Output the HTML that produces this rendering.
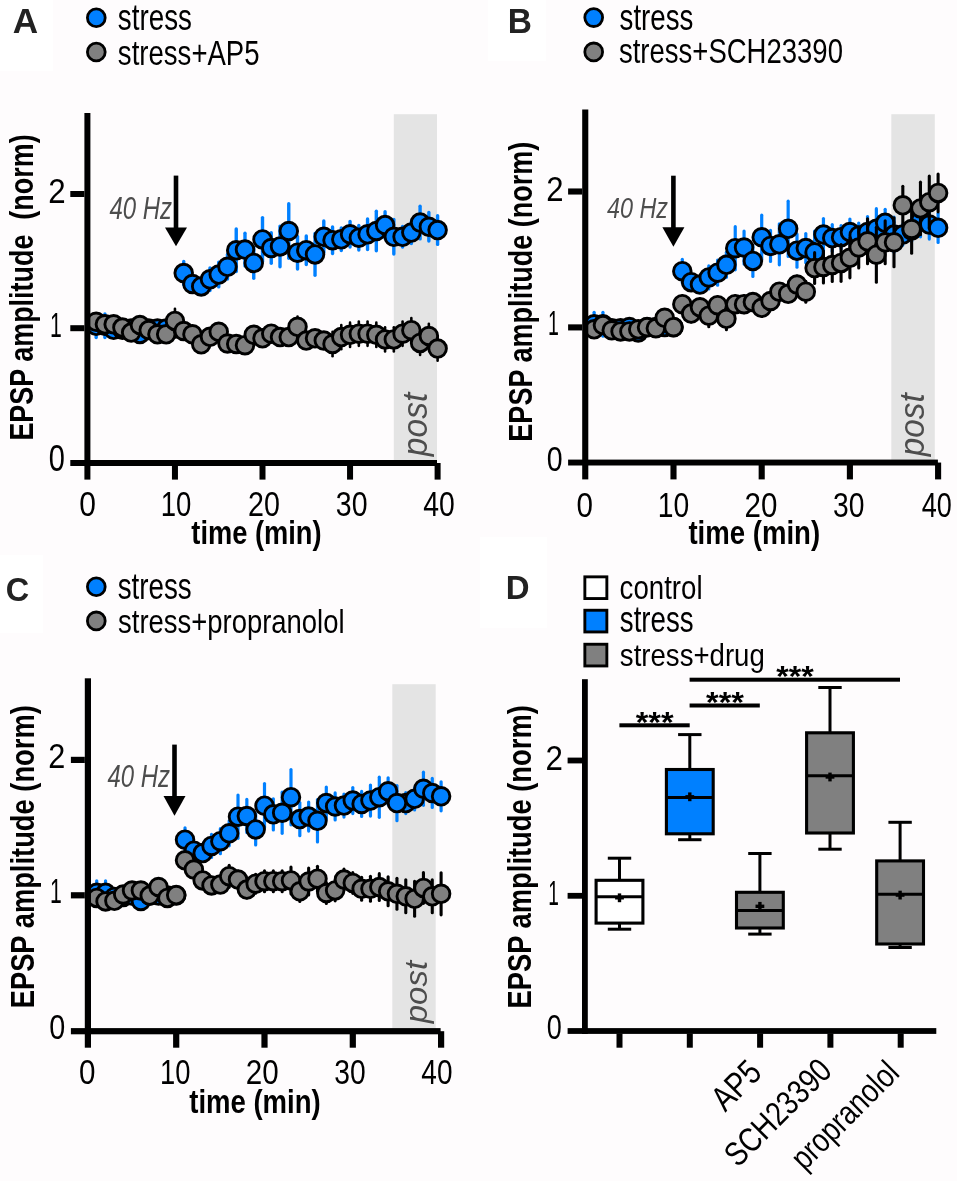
<!DOCTYPE html>
<html><head><meta charset="utf-8"><title>figure</title><style>
html,body{margin:0;padding:0;background:#fefcfd;overflow:hidden;}
svg{display:block;font-family:"Liberation Sans", sans-serif;will-change:transform;}
text{white-space:pre;}
</style></head><body>
<svg width="957" height="1181" viewBox="0 0 957 1181">
<rect x="0" y="0" width="957" height="1181" fill="#fefcfd"/>
<rect x="0" y="0" width="53" height="71" fill="#ffffff"/>
<rect x="488" y="0" width="58" height="61" fill="#ffffff"/>
<rect x="0" y="555" width="43" height="78" fill="#ffffff"/>
<rect x="480" y="537" width="67" height="91" fill="#ffffff"/>
<rect x="393.8" y="114.2" width="43.20" height="348.80" fill="#e4e4e4"/>
<rect x="173.70" y="175.6" width="4.6" height="52.90" fill="#000"/>
<polygon points="165.00,227.5 187.00,227.5 176.00,246.3" fill="#000"/>
<line x1="96.16" y1="314.06" x2="96.16" y2="337.56" stroke="#0080ff" stroke-width="3.4" stroke-linecap="round"/>
<line x1="104.91" y1="314.06" x2="104.91" y2="337.56" stroke="#0080ff" stroke-width="3.4" stroke-linecap="round"/>
<line x1="113.67" y1="322.13" x2="113.67" y2="337.56" stroke="#0080ff" stroke-width="3.4" stroke-linecap="round"/>
<line x1="122.42" y1="322.13" x2="122.42" y2="337.56" stroke="#0080ff" stroke-width="3.4" stroke-linecap="round"/>
<line x1="131.18" y1="320.78" x2="131.18" y2="336.22" stroke="#0080ff" stroke-width="3.4" stroke-linecap="round"/>
<line x1="139.93" y1="326.17" x2="139.93" y2="341.60" stroke="#0080ff" stroke-width="3.4" stroke-linecap="round"/>
<line x1="148.69" y1="320.78" x2="148.69" y2="336.22" stroke="#0080ff" stroke-width="3.4" stroke-linecap="round"/>
<line x1="157.44" y1="320.78" x2="157.44" y2="336.22" stroke="#0080ff" stroke-width="3.4" stroke-linecap="round"/>
<line x1="166.19" y1="320.78" x2="166.19" y2="336.22" stroke="#0080ff" stroke-width="3.4" stroke-linecap="round"/>
<line x1="174.95" y1="320.78" x2="174.95" y2="336.22" stroke="#0080ff" stroke-width="3.4" stroke-linecap="round"/>
<line x1="183.71" y1="261.40" x2="183.71" y2="284.80" stroke="#0080ff" stroke-width="3.4" stroke-linecap="round"/>
<line x1="192.46" y1="277.70" x2="192.46" y2="290.30" stroke="#0080ff" stroke-width="3.4" stroke-linecap="round"/>
<line x1="201.22" y1="280.10" x2="201.22" y2="292.70" stroke="#0080ff" stroke-width="3.4" stroke-linecap="round"/>
<line x1="209.97" y1="268.00" x2="209.97" y2="290.60" stroke="#0080ff" stroke-width="3.4" stroke-linecap="round"/>
<line x1="218.73" y1="262.30" x2="218.73" y2="286.90" stroke="#0080ff" stroke-width="3.4" stroke-linecap="round"/>
<line x1="227.48" y1="254.50" x2="227.48" y2="279.10" stroke="#0080ff" stroke-width="3.4" stroke-linecap="round"/>
<line x1="236.24" y1="229.00" x2="236.24" y2="271.60" stroke="#0080ff" stroke-width="3.4" stroke-linecap="round"/>
<line x1="244.99" y1="233.30" x2="244.99" y2="265.90" stroke="#0080ff" stroke-width="3.4" stroke-linecap="round"/>
<line x1="253.75" y1="247.60" x2="253.75" y2="278.20" stroke="#0080ff" stroke-width="3.4" stroke-linecap="round"/>
<line x1="262.50" y1="217.60" x2="262.50" y2="261.20" stroke="#0080ff" stroke-width="3.4" stroke-linecap="round"/>
<line x1="271.25" y1="232.70" x2="271.25" y2="263.30" stroke="#0080ff" stroke-width="3.4" stroke-linecap="round"/>
<line x1="280.01" y1="226.10" x2="280.01" y2="266.70" stroke="#0080ff" stroke-width="3.4" stroke-linecap="round"/>
<line x1="288.76" y1="203.70" x2="288.76" y2="258.30" stroke="#0080ff" stroke-width="3.4" stroke-linecap="round"/>
<line x1="297.52" y1="236.40" x2="297.52" y2="269.00" stroke="#0080ff" stroke-width="3.4" stroke-linecap="round"/>
<line x1="306.28" y1="235.90" x2="306.28" y2="264.50" stroke="#0080ff" stroke-width="3.4" stroke-linecap="round"/>
<line x1="315.03" y1="233.50" x2="315.03" y2="275.30" stroke="#0080ff" stroke-width="3.4" stroke-linecap="round"/>
<line x1="323.79" y1="221.00" x2="323.79" y2="252.60" stroke="#0080ff" stroke-width="3.4" stroke-linecap="round"/>
<line x1="332.54" y1="226.90" x2="332.54" y2="253.50" stroke="#0080ff" stroke-width="3.4" stroke-linecap="round"/>
<line x1="341.30" y1="228.00" x2="341.30" y2="250.60" stroke="#0080ff" stroke-width="3.4" stroke-linecap="round"/>
<line x1="350.05" y1="221.50" x2="350.05" y2="247.10" stroke="#0080ff" stroke-width="3.4" stroke-linecap="round"/>
<line x1="358.81" y1="225.40" x2="358.81" y2="250.00" stroke="#0080ff" stroke-width="3.4" stroke-linecap="round"/>
<line x1="367.56" y1="219.00" x2="367.56" y2="249.60" stroke="#0080ff" stroke-width="3.4" stroke-linecap="round"/>
<line x1="376.32" y1="211.20" x2="376.32" y2="250.80" stroke="#0080ff" stroke-width="3.4" stroke-linecap="round"/>
<line x1="385.07" y1="211.80" x2="385.07" y2="238.40" stroke="#0080ff" stroke-width="3.4" stroke-linecap="round"/>
<line x1="393.83" y1="219.50" x2="393.83" y2="254.10" stroke="#0080ff" stroke-width="3.4" stroke-linecap="round"/>
<line x1="402.58" y1="226.50" x2="402.58" y2="247.10" stroke="#0080ff" stroke-width="3.4" stroke-linecap="round"/>
<line x1="411.34" y1="221.70" x2="411.34" y2="243.50" stroke="#0080ff" stroke-width="3.4" stroke-linecap="round"/>
<line x1="420.09" y1="206.30" x2="420.09" y2="238.90" stroke="#0080ff" stroke-width="3.4" stroke-linecap="round"/>
<line x1="428.85" y1="212.50" x2="428.85" y2="241.10" stroke="#0080ff" stroke-width="3.4" stroke-linecap="round"/>
<line x1="437.60" y1="215.80" x2="437.60" y2="244.40" stroke="#0080ff" stroke-width="3.4" stroke-linecap="round"/>
<circle cx="96.16" cy="325.81" r="8.8" fill="#0080ff" stroke="#000" stroke-width="2.9"/>
<circle cx="104.91" cy="325.81" r="8.8" fill="#0080ff" stroke="#000" stroke-width="2.9"/>
<circle cx="113.67" cy="329.85" r="8.8" fill="#0080ff" stroke="#000" stroke-width="2.9"/>
<circle cx="122.42" cy="329.85" r="8.8" fill="#0080ff" stroke="#000" stroke-width="2.9"/>
<circle cx="131.18" cy="328.50" r="8.8" fill="#0080ff" stroke="#000" stroke-width="2.9"/>
<circle cx="139.93" cy="333.88" r="8.8" fill="#0080ff" stroke="#000" stroke-width="2.9"/>
<circle cx="148.69" cy="328.50" r="8.8" fill="#0080ff" stroke="#000" stroke-width="2.9"/>
<circle cx="157.44" cy="328.50" r="8.8" fill="#0080ff" stroke="#000" stroke-width="2.9"/>
<circle cx="166.19" cy="328.50" r="8.8" fill="#0080ff" stroke="#000" stroke-width="2.9"/>
<circle cx="174.95" cy="328.50" r="8.8" fill="#0080ff" stroke="#000" stroke-width="2.9"/>
<circle cx="183.71" cy="273.10" r="8.8" fill="#0080ff" stroke="#000" stroke-width="2.9"/>
<circle cx="192.46" cy="284.00" r="8.8" fill="#0080ff" stroke="#000" stroke-width="2.9"/>
<circle cx="201.22" cy="286.40" r="8.8" fill="#0080ff" stroke="#000" stroke-width="2.9"/>
<circle cx="209.97" cy="279.30" r="8.8" fill="#0080ff" stroke="#000" stroke-width="2.9"/>
<circle cx="218.73" cy="274.60" r="8.8" fill="#0080ff" stroke="#000" stroke-width="2.9"/>
<circle cx="227.48" cy="266.80" r="8.8" fill="#0080ff" stroke="#000" stroke-width="2.9"/>
<circle cx="236.24" cy="250.30" r="8.8" fill="#0080ff" stroke="#000" stroke-width="2.9"/>
<circle cx="244.99" cy="249.60" r="8.8" fill="#0080ff" stroke="#000" stroke-width="2.9"/>
<circle cx="253.75" cy="262.90" r="8.8" fill="#0080ff" stroke="#000" stroke-width="2.9"/>
<circle cx="262.50" cy="239.40" r="8.8" fill="#0080ff" stroke="#000" stroke-width="2.9"/>
<circle cx="271.25" cy="248.00" r="8.8" fill="#0080ff" stroke="#000" stroke-width="2.9"/>
<circle cx="280.01" cy="246.40" r="8.8" fill="#0080ff" stroke="#000" stroke-width="2.9"/>
<circle cx="288.76" cy="231.00" r="8.8" fill="#0080ff" stroke="#000" stroke-width="2.9"/>
<circle cx="297.52" cy="252.70" r="8.8" fill="#0080ff" stroke="#000" stroke-width="2.9"/>
<circle cx="306.28" cy="250.20" r="8.8" fill="#0080ff" stroke="#000" stroke-width="2.9"/>
<circle cx="315.03" cy="254.40" r="8.8" fill="#0080ff" stroke="#000" stroke-width="2.9"/>
<circle cx="323.79" cy="236.80" r="8.8" fill="#0080ff" stroke="#000" stroke-width="2.9"/>
<circle cx="332.54" cy="240.20" r="8.8" fill="#0080ff" stroke="#000" stroke-width="2.9"/>
<circle cx="341.30" cy="239.30" r="8.8" fill="#0080ff" stroke="#000" stroke-width="2.9"/>
<circle cx="350.05" cy="234.30" r="8.8" fill="#0080ff" stroke="#000" stroke-width="2.9"/>
<circle cx="358.81" cy="237.70" r="8.8" fill="#0080ff" stroke="#000" stroke-width="2.9"/>
<circle cx="367.56" cy="234.30" r="8.8" fill="#0080ff" stroke="#000" stroke-width="2.9"/>
<circle cx="376.32" cy="231.00" r="8.8" fill="#0080ff" stroke="#000" stroke-width="2.9"/>
<circle cx="385.07" cy="225.10" r="8.8" fill="#0080ff" stroke="#000" stroke-width="2.9"/>
<circle cx="393.83" cy="236.80" r="8.8" fill="#0080ff" stroke="#000" stroke-width="2.9"/>
<circle cx="402.58" cy="236.80" r="8.8" fill="#0080ff" stroke="#000" stroke-width="2.9"/>
<circle cx="411.34" cy="232.60" r="8.8" fill="#0080ff" stroke="#000" stroke-width="2.9"/>
<circle cx="420.09" cy="222.60" r="8.8" fill="#0080ff" stroke="#000" stroke-width="2.9"/>
<circle cx="428.85" cy="226.80" r="8.8" fill="#0080ff" stroke="#000" stroke-width="2.9"/>
<circle cx="437.60" cy="230.10" r="8.8" fill="#0080ff" stroke="#000" stroke-width="2.9"/>
<line x1="96.16" y1="315.03" x2="96.16" y2="328.57" stroke="#000" stroke-width="2.6" stroke-linecap="round"/>
<line x1="104.91" y1="317.53" x2="104.91" y2="331.07" stroke="#000" stroke-width="2.6" stroke-linecap="round"/>
<line x1="113.67" y1="317.53" x2="113.67" y2="331.07" stroke="#000" stroke-width="2.6" stroke-linecap="round"/>
<line x1="122.42" y1="320.83" x2="122.42" y2="334.37" stroke="#000" stroke-width="2.6" stroke-linecap="round"/>
<line x1="131.18" y1="325.83" x2="131.18" y2="339.37" stroke="#000" stroke-width="2.6" stroke-linecap="round"/>
<line x1="139.93" y1="318.33" x2="139.93" y2="331.87" stroke="#000" stroke-width="2.6" stroke-linecap="round"/>
<line x1="148.69" y1="323.33" x2="148.69" y2="336.87" stroke="#000" stroke-width="2.6" stroke-linecap="round"/>
<line x1="157.44" y1="327.53" x2="157.44" y2="341.07" stroke="#000" stroke-width="2.6" stroke-linecap="round"/>
<line x1="166.19" y1="327.53" x2="166.19" y2="341.07" stroke="#000" stroke-width="2.6" stroke-linecap="round"/>
<line x1="174.95" y1="308.75" x2="174.95" y2="333.05" stroke="#000" stroke-width="2.6" stroke-linecap="round"/>
<line x1="183.71" y1="324.23" x2="183.71" y2="337.77" stroke="#000" stroke-width="2.6" stroke-linecap="round"/>
<line x1="192.46" y1="327.53" x2="192.46" y2="341.07" stroke="#000" stroke-width="2.6" stroke-linecap="round"/>
<line x1="201.22" y1="337.53" x2="201.22" y2="351.07" stroke="#000" stroke-width="2.6" stroke-linecap="round"/>
<line x1="209.97" y1="330.03" x2="209.97" y2="343.57" stroke="#000" stroke-width="2.6" stroke-linecap="round"/>
<line x1="218.73" y1="325.03" x2="218.73" y2="338.57" stroke="#000" stroke-width="2.6" stroke-linecap="round"/>
<line x1="227.48" y1="336.73" x2="227.48" y2="350.27" stroke="#000" stroke-width="2.6" stroke-linecap="round"/>
<line x1="236.24" y1="337.23" x2="236.24" y2="350.77" stroke="#000" stroke-width="2.6" stroke-linecap="round"/>
<line x1="244.99" y1="338.43" x2="244.99" y2="351.97" stroke="#000" stroke-width="2.6" stroke-linecap="round"/>
<line x1="253.75" y1="328.03" x2="253.75" y2="341.57" stroke="#000" stroke-width="2.6" stroke-linecap="round"/>
<line x1="262.50" y1="331.53" x2="262.50" y2="345.07" stroke="#000" stroke-width="2.6" stroke-linecap="round"/>
<line x1="271.25" y1="326.93" x2="271.25" y2="340.47" stroke="#000" stroke-width="2.6" stroke-linecap="round"/>
<line x1="280.01" y1="330.33" x2="280.01" y2="343.87" stroke="#000" stroke-width="2.6" stroke-linecap="round"/>
<line x1="288.76" y1="330.33" x2="288.76" y2="343.87" stroke="#000" stroke-width="2.6" stroke-linecap="round"/>
<line x1="297.52" y1="316.67" x2="297.52" y2="336.93" stroke="#000" stroke-width="2.6" stroke-linecap="round"/>
<line x1="306.28" y1="333.83" x2="306.28" y2="347.37" stroke="#000" stroke-width="2.6" stroke-linecap="round"/>
<line x1="315.03" y1="331.53" x2="315.03" y2="345.07" stroke="#000" stroke-width="2.6" stroke-linecap="round"/>
<line x1="323.79" y1="333.83" x2="323.79" y2="347.37" stroke="#000" stroke-width="2.6" stroke-linecap="round"/>
<line x1="332.54" y1="331.85" x2="332.54" y2="356.15" stroke="#000" stroke-width="2.6" stroke-linecap="round"/>
<line x1="341.30" y1="324.95" x2="341.30" y2="349.25" stroke="#000" stroke-width="2.6" stroke-linecap="round"/>
<line x1="350.05" y1="322.65" x2="350.05" y2="346.95" stroke="#000" stroke-width="2.6" stroke-linecap="round"/>
<line x1="358.81" y1="321.55" x2="358.81" y2="345.85" stroke="#000" stroke-width="2.6" stroke-linecap="round"/>
<line x1="367.56" y1="321.55" x2="367.56" y2="345.85" stroke="#000" stroke-width="2.6" stroke-linecap="round"/>
<line x1="376.32" y1="322.65" x2="376.32" y2="346.95" stroke="#000" stroke-width="2.6" stroke-linecap="round"/>
<line x1="385.07" y1="327.25" x2="385.07" y2="351.55" stroke="#000" stroke-width="2.6" stroke-linecap="round"/>
<line x1="393.83" y1="327.25" x2="393.83" y2="351.55" stroke="#000" stroke-width="2.6" stroke-linecap="round"/>
<line x1="402.58" y1="321.55" x2="402.58" y2="345.85" stroke="#000" stroke-width="2.6" stroke-linecap="round"/>
<line x1="411.34" y1="318.05" x2="411.34" y2="342.35" stroke="#000" stroke-width="2.6" stroke-linecap="round"/>
<line x1="420.09" y1="330.75" x2="420.09" y2="355.05" stroke="#000" stroke-width="2.6" stroke-linecap="round"/>
<line x1="428.85" y1="323.85" x2="428.85" y2="348.15" stroke="#000" stroke-width="2.6" stroke-linecap="round"/>
<line x1="437.60" y1="336.45" x2="437.60" y2="360.75" stroke="#000" stroke-width="2.6" stroke-linecap="round"/>
<circle cx="96.16" cy="321.80" r="8.8" fill="#808080" stroke="#000" stroke-width="2.9"/>
<circle cx="104.91" cy="324.30" r="8.8" fill="#808080" stroke="#000" stroke-width="2.9"/>
<circle cx="113.67" cy="324.30" r="8.8" fill="#808080" stroke="#000" stroke-width="2.9"/>
<circle cx="122.42" cy="327.60" r="8.8" fill="#808080" stroke="#000" stroke-width="2.9"/>
<circle cx="131.18" cy="332.60" r="8.8" fill="#808080" stroke="#000" stroke-width="2.9"/>
<circle cx="139.93" cy="325.10" r="8.8" fill="#808080" stroke="#000" stroke-width="2.9"/>
<circle cx="148.69" cy="330.10" r="8.8" fill="#808080" stroke="#000" stroke-width="2.9"/>
<circle cx="157.44" cy="334.30" r="8.8" fill="#808080" stroke="#000" stroke-width="2.9"/>
<circle cx="166.19" cy="334.30" r="8.8" fill="#808080" stroke="#000" stroke-width="2.9"/>
<circle cx="174.95" cy="320.90" r="8.8" fill="#808080" stroke="#000" stroke-width="2.9"/>
<circle cx="183.71" cy="331.00" r="8.8" fill="#808080" stroke="#000" stroke-width="2.9"/>
<circle cx="192.46" cy="334.30" r="8.8" fill="#808080" stroke="#000" stroke-width="2.9"/>
<circle cx="201.22" cy="344.30" r="8.8" fill="#808080" stroke="#000" stroke-width="2.9"/>
<circle cx="209.97" cy="336.80" r="8.8" fill="#808080" stroke="#000" stroke-width="2.9"/>
<circle cx="218.73" cy="331.80" r="8.8" fill="#808080" stroke="#000" stroke-width="2.9"/>
<circle cx="227.48" cy="343.50" r="8.8" fill="#808080" stroke="#000" stroke-width="2.9"/>
<circle cx="236.24" cy="344.00" r="8.8" fill="#808080" stroke="#000" stroke-width="2.9"/>
<circle cx="244.99" cy="345.20" r="8.8" fill="#808080" stroke="#000" stroke-width="2.9"/>
<circle cx="253.75" cy="334.80" r="8.8" fill="#808080" stroke="#000" stroke-width="2.9"/>
<circle cx="262.50" cy="338.30" r="8.8" fill="#808080" stroke="#000" stroke-width="2.9"/>
<circle cx="271.25" cy="333.70" r="8.8" fill="#808080" stroke="#000" stroke-width="2.9"/>
<circle cx="280.01" cy="337.10" r="8.8" fill="#808080" stroke="#000" stroke-width="2.9"/>
<circle cx="288.76" cy="337.10" r="8.8" fill="#808080" stroke="#000" stroke-width="2.9"/>
<circle cx="297.52" cy="326.80" r="8.8" fill="#808080" stroke="#000" stroke-width="2.9"/>
<circle cx="306.28" cy="340.60" r="8.8" fill="#808080" stroke="#000" stroke-width="2.9"/>
<circle cx="315.03" cy="338.30" r="8.8" fill="#808080" stroke="#000" stroke-width="2.9"/>
<circle cx="323.79" cy="340.60" r="8.8" fill="#808080" stroke="#000" stroke-width="2.9"/>
<circle cx="332.54" cy="344.00" r="8.8" fill="#808080" stroke="#000" stroke-width="2.9"/>
<circle cx="341.30" cy="337.10" r="8.8" fill="#808080" stroke="#000" stroke-width="2.9"/>
<circle cx="350.05" cy="334.80" r="8.8" fill="#808080" stroke="#000" stroke-width="2.9"/>
<circle cx="358.81" cy="333.70" r="8.8" fill="#808080" stroke="#000" stroke-width="2.9"/>
<circle cx="367.56" cy="333.70" r="8.8" fill="#808080" stroke="#000" stroke-width="2.9"/>
<circle cx="376.32" cy="334.80" r="8.8" fill="#808080" stroke="#000" stroke-width="2.9"/>
<circle cx="385.07" cy="339.40" r="8.8" fill="#808080" stroke="#000" stroke-width="2.9"/>
<circle cx="393.83" cy="339.40" r="8.8" fill="#808080" stroke="#000" stroke-width="2.9"/>
<circle cx="402.58" cy="333.70" r="8.8" fill="#808080" stroke="#000" stroke-width="2.9"/>
<circle cx="411.34" cy="330.20" r="8.8" fill="#808080" stroke="#000" stroke-width="2.9"/>
<circle cx="420.09" cy="342.90" r="8.8" fill="#808080" stroke="#000" stroke-width="2.9"/>
<circle cx="428.85" cy="336.00" r="8.8" fill="#808080" stroke="#000" stroke-width="2.9"/>
<circle cx="437.60" cy="348.60" r="8.8" fill="#808080" stroke="#000" stroke-width="2.9"/>
<rect x="84.4" y="113" width="6.00" height="366.60" fill="#000"/>
<rect x="70.3" y="460" width="366.70" height="6.00" fill="#000"/>
<rect x="70.3" y="325.20" width="14.10" height="6.00" fill="#000"/>
<rect x="70.3" y="191.00" width="14.10" height="6.00" fill="#000"/>
<rect x="171.95" y="465.50" width="6.00" height="14.10" fill="#000"/>
<rect x="259.50" y="465.50" width="6.00" height="14.10" fill="#000"/>
<rect x="347.05" y="465.50" width="6.00" height="14.10" fill="#000"/>
<rect x="434.60" y="463.00" width="6.00" height="16.60" fill="#000"/>
<circle cx="96.3" cy="17.7" r="8.9" fill="#0080ff" stroke="#000" stroke-width="2.8"/>
<circle cx="96.3" cy="52" r="8.9" fill="#808080" stroke="#000" stroke-width="2.8"/>
<rect x="891.3" y="114.2" width="43.50" height="348.30" fill="#e4e4e4"/>
<rect x="671.10" y="175.7" width="4.6" height="52.60" fill="#000"/>
<polygon points="662.40,227.3 684.40,227.3 673.40,246.7" fill="#000"/>
<line x1="594.12" y1="312.34" x2="594.12" y2="336.24" stroke="#0080ff" stroke-width="3.2" stroke-linecap="round"/>
<line x1="602.94" y1="312.34" x2="602.94" y2="336.24" stroke="#0080ff" stroke-width="3.2" stroke-linecap="round"/>
<line x1="611.76" y1="320.47" x2="611.76" y2="336.24" stroke="#0080ff" stroke-width="3.2" stroke-linecap="round"/>
<line x1="620.58" y1="320.47" x2="620.58" y2="336.24" stroke="#0080ff" stroke-width="3.2" stroke-linecap="round"/>
<line x1="629.40" y1="319.12" x2="629.40" y2="334.88" stroke="#0080ff" stroke-width="3.2" stroke-linecap="round"/>
<line x1="638.22" y1="324.54" x2="638.22" y2="340.31" stroke="#0080ff" stroke-width="3.2" stroke-linecap="round"/>
<line x1="647.04" y1="319.12" x2="647.04" y2="334.88" stroke="#0080ff" stroke-width="3.2" stroke-linecap="round"/>
<line x1="655.86" y1="319.12" x2="655.86" y2="334.88" stroke="#0080ff" stroke-width="3.2" stroke-linecap="round"/>
<line x1="664.68" y1="319.12" x2="664.68" y2="334.88" stroke="#0080ff" stroke-width="3.2" stroke-linecap="round"/>
<line x1="673.50" y1="319.12" x2="673.50" y2="334.88" stroke="#0080ff" stroke-width="3.2" stroke-linecap="round"/>
<line x1="682.32" y1="259.29" x2="682.32" y2="283.09" stroke="#0080ff" stroke-width="3.2" stroke-linecap="round"/>
<line x1="691.14" y1="275.71" x2="691.14" y2="288.63" stroke="#0080ff" stroke-width="3.2" stroke-linecap="round"/>
<line x1="699.96" y1="278.13" x2="699.96" y2="291.05" stroke="#0080ff" stroke-width="3.2" stroke-linecap="round"/>
<line x1="708.78" y1="265.94" x2="708.78" y2="288.93" stroke="#0080ff" stroke-width="3.2" stroke-linecap="round"/>
<line x1="717.60" y1="260.20" x2="717.60" y2="285.20" stroke="#0080ff" stroke-width="3.2" stroke-linecap="round"/>
<line x1="726.42" y1="252.34" x2="726.42" y2="277.35" stroke="#0080ff" stroke-width="3.2" stroke-linecap="round"/>
<line x1="735.24" y1="226.65" x2="735.24" y2="269.79" stroke="#0080ff" stroke-width="3.2" stroke-linecap="round"/>
<line x1="744.06" y1="230.98" x2="744.06" y2="264.05" stroke="#0080ff" stroke-width="3.2" stroke-linecap="round"/>
<line x1="752.88" y1="245.39" x2="752.88" y2="276.44" stroke="#0080ff" stroke-width="3.2" stroke-linecap="round"/>
<line x1="761.70" y1="215.16" x2="761.70" y2="259.31" stroke="#0080ff" stroke-width="3.2" stroke-linecap="round"/>
<line x1="770.52" y1="230.38" x2="770.52" y2="261.43" stroke="#0080ff" stroke-width="3.2" stroke-linecap="round"/>
<line x1="779.34" y1="223.73" x2="779.34" y2="264.85" stroke="#0080ff" stroke-width="3.2" stroke-linecap="round"/>
<line x1="788.16" y1="201.16" x2="788.16" y2="256.39" stroke="#0080ff" stroke-width="3.2" stroke-linecap="round"/>
<line x1="796.98" y1="234.10" x2="796.98" y2="267.17" stroke="#0080ff" stroke-width="3.2" stroke-linecap="round"/>
<line x1="805.80" y1="233.60" x2="805.80" y2="262.64" stroke="#0080ff" stroke-width="3.2" stroke-linecap="round"/>
<line x1="814.62" y1="231.18" x2="814.62" y2="273.52" stroke="#0080ff" stroke-width="3.2" stroke-linecap="round"/>
<line x1="823.44" y1="218.59" x2="823.44" y2="250.65" stroke="#0080ff" stroke-width="3.2" stroke-linecap="round"/>
<line x1="832.26" y1="224.53" x2="832.26" y2="251.56" stroke="#0080ff" stroke-width="3.2" stroke-linecap="round"/>
<line x1="841.08" y1="225.64" x2="841.08" y2="248.63" stroke="#0080ff" stroke-width="3.2" stroke-linecap="round"/>
<line x1="849.90" y1="219.09" x2="849.90" y2="245.11" stroke="#0080ff" stroke-width="3.2" stroke-linecap="round"/>
<line x1="858.72" y1="223.02" x2="858.72" y2="248.03" stroke="#0080ff" stroke-width="3.2" stroke-linecap="round"/>
<line x1="867.54" y1="216.57" x2="867.54" y2="247.63" stroke="#0080ff" stroke-width="3.2" stroke-linecap="round"/>
<line x1="876.36" y1="208.72" x2="876.36" y2="248.83" stroke="#0080ff" stroke-width="3.2" stroke-linecap="round"/>
<line x1="885.18" y1="209.32" x2="885.18" y2="236.34" stroke="#0080ff" stroke-width="3.2" stroke-linecap="round"/>
<line x1="894.00" y1="217.08" x2="894.00" y2="252.16" stroke="#0080ff" stroke-width="3.2" stroke-linecap="round"/>
<line x1="902.82" y1="224.13" x2="902.82" y2="245.11" stroke="#0080ff" stroke-width="3.2" stroke-linecap="round"/>
<line x1="911.64" y1="219.29" x2="911.64" y2="241.48" stroke="#0080ff" stroke-width="3.2" stroke-linecap="round"/>
<line x1="920.46" y1="203.78" x2="920.46" y2="236.85" stroke="#0080ff" stroke-width="3.2" stroke-linecap="round"/>
<line x1="929.28" y1="210.02" x2="929.28" y2="239.06" stroke="#0080ff" stroke-width="3.2" stroke-linecap="round"/>
<line x1="938.10" y1="213.35" x2="938.10" y2="242.39" stroke="#0080ff" stroke-width="3.2" stroke-linecap="round"/>
<circle cx="594.12" cy="324.29" r="8.8" fill="#0080ff" stroke="#000" stroke-width="2.9"/>
<circle cx="602.94" cy="324.29" r="8.8" fill="#0080ff" stroke="#000" stroke-width="2.9"/>
<circle cx="611.76" cy="328.36" r="8.8" fill="#0080ff" stroke="#000" stroke-width="2.9"/>
<circle cx="620.58" cy="328.36" r="8.8" fill="#0080ff" stroke="#000" stroke-width="2.9"/>
<circle cx="629.40" cy="327.00" r="8.8" fill="#0080ff" stroke="#000" stroke-width="2.9"/>
<circle cx="638.22" cy="332.42" r="8.8" fill="#0080ff" stroke="#000" stroke-width="2.9"/>
<circle cx="647.04" cy="327.00" r="8.8" fill="#0080ff" stroke="#000" stroke-width="2.9"/>
<circle cx="655.86" cy="327.00" r="8.8" fill="#0080ff" stroke="#000" stroke-width="2.9"/>
<circle cx="664.68" cy="327.00" r="8.8" fill="#0080ff" stroke="#000" stroke-width="2.9"/>
<circle cx="673.50" cy="327.00" r="8.8" fill="#0080ff" stroke="#000" stroke-width="2.9"/>
<circle cx="682.32" cy="271.19" r="8.8" fill="#0080ff" stroke="#000" stroke-width="2.9"/>
<circle cx="691.14" cy="282.17" r="8.8" fill="#0080ff" stroke="#000" stroke-width="2.9"/>
<circle cx="699.96" cy="284.59" r="8.8" fill="#0080ff" stroke="#000" stroke-width="2.9"/>
<circle cx="708.78" cy="277.43" r="8.8" fill="#0080ff" stroke="#000" stroke-width="2.9"/>
<circle cx="717.60" cy="272.70" r="8.8" fill="#0080ff" stroke="#000" stroke-width="2.9"/>
<circle cx="726.42" cy="264.84" r="8.8" fill="#0080ff" stroke="#000" stroke-width="2.9"/>
<circle cx="735.24" cy="248.22" r="8.8" fill="#0080ff" stroke="#000" stroke-width="2.9"/>
<circle cx="744.06" cy="247.51" r="8.8" fill="#0080ff" stroke="#000" stroke-width="2.9"/>
<circle cx="752.88" cy="260.91" r="8.8" fill="#0080ff" stroke="#000" stroke-width="2.9"/>
<circle cx="761.70" cy="237.24" r="8.8" fill="#0080ff" stroke="#000" stroke-width="2.9"/>
<circle cx="770.52" cy="245.90" r="8.8" fill="#0080ff" stroke="#000" stroke-width="2.9"/>
<circle cx="779.34" cy="244.29" r="8.8" fill="#0080ff" stroke="#000" stroke-width="2.9"/>
<circle cx="788.16" cy="228.78" r="8.8" fill="#0080ff" stroke="#000" stroke-width="2.9"/>
<circle cx="796.98" cy="250.64" r="8.8" fill="#0080ff" stroke="#000" stroke-width="2.9"/>
<circle cx="805.80" cy="248.12" r="8.8" fill="#0080ff" stroke="#000" stroke-width="2.9"/>
<circle cx="814.62" cy="252.35" r="8.8" fill="#0080ff" stroke="#000" stroke-width="2.9"/>
<circle cx="823.44" cy="234.62" r="8.8" fill="#0080ff" stroke="#000" stroke-width="2.9"/>
<circle cx="832.26" cy="238.04" r="8.8" fill="#0080ff" stroke="#000" stroke-width="2.9"/>
<circle cx="841.08" cy="237.14" r="8.8" fill="#0080ff" stroke="#000" stroke-width="2.9"/>
<circle cx="849.90" cy="232.10" r="8.8" fill="#0080ff" stroke="#000" stroke-width="2.9"/>
<circle cx="858.72" cy="235.52" r="8.8" fill="#0080ff" stroke="#000" stroke-width="2.9"/>
<circle cx="867.54" cy="232.10" r="8.8" fill="#0080ff" stroke="#000" stroke-width="2.9"/>
<circle cx="876.36" cy="228.78" r="8.8" fill="#0080ff" stroke="#000" stroke-width="2.9"/>
<circle cx="885.18" cy="222.83" r="8.8" fill="#0080ff" stroke="#000" stroke-width="2.9"/>
<circle cx="894.00" cy="234.62" r="8.8" fill="#0080ff" stroke="#000" stroke-width="2.9"/>
<circle cx="902.82" cy="234.62" r="8.8" fill="#0080ff" stroke="#000" stroke-width="2.9"/>
<circle cx="911.64" cy="230.39" r="8.8" fill="#0080ff" stroke="#000" stroke-width="2.9"/>
<circle cx="920.46" cy="220.31" r="8.8" fill="#0080ff" stroke="#000" stroke-width="2.9"/>
<circle cx="929.28" cy="224.54" r="8.8" fill="#0080ff" stroke="#000" stroke-width="2.9"/>
<circle cx="938.10" cy="227.87" r="8.8" fill="#0080ff" stroke="#000" stroke-width="2.9"/>
<line x1="594.12" y1="324.85" x2="594.12" y2="333.75" stroke="#000" stroke-width="3.1" stroke-linecap="round"/>
<line x1="602.94" y1="320.65" x2="602.94" y2="329.55" stroke="#000" stroke-width="3.1" stroke-linecap="round"/>
<line x1="611.76" y1="325.85" x2="611.76" y2="334.75" stroke="#000" stroke-width="3.1" stroke-linecap="round"/>
<line x1="620.58" y1="326.95" x2="620.58" y2="335.85" stroke="#000" stroke-width="3.1" stroke-linecap="round"/>
<line x1="629.40" y1="326.95" x2="629.40" y2="335.85" stroke="#000" stroke-width="3.1" stroke-linecap="round"/>
<line x1="638.22" y1="324.85" x2="638.22" y2="333.75" stroke="#000" stroke-width="3.1" stroke-linecap="round"/>
<line x1="647.04" y1="322.75" x2="647.04" y2="331.65" stroke="#000" stroke-width="3.1" stroke-linecap="round"/>
<line x1="655.86" y1="323.75" x2="655.86" y2="332.65" stroke="#000" stroke-width="3.1" stroke-linecap="round"/>
<line x1="664.68" y1="313.35" x2="664.68" y2="322.25" stroke="#000" stroke-width="3.1" stroke-linecap="round"/>
<line x1="673.50" y1="322.75" x2="673.50" y2="331.65" stroke="#000" stroke-width="3.1" stroke-linecap="round"/>
<line x1="682.32" y1="295.75" x2="682.32" y2="312.65" stroke="#000" stroke-width="3.1" stroke-linecap="round"/>
<line x1="691.14" y1="305.15" x2="691.14" y2="322.05" stroke="#000" stroke-width="3.1" stroke-linecap="round"/>
<line x1="699.96" y1="298.85" x2="699.96" y2="315.75" stroke="#000" stroke-width="3.1" stroke-linecap="round"/>
<line x1="708.78" y1="304.75" x2="708.78" y2="326.65" stroke="#000" stroke-width="3.1" stroke-linecap="round"/>
<line x1="717.60" y1="296.75" x2="717.60" y2="313.65" stroke="#000" stroke-width="3.1" stroke-linecap="round"/>
<line x1="726.42" y1="307.85" x2="726.42" y2="329.75" stroke="#000" stroke-width="3.1" stroke-linecap="round"/>
<line x1="735.24" y1="295.75" x2="735.24" y2="312.65" stroke="#000" stroke-width="3.1" stroke-linecap="round"/>
<line x1="744.06" y1="295.75" x2="744.06" y2="312.65" stroke="#000" stroke-width="3.1" stroke-linecap="round"/>
<line x1="752.88" y1="293.65" x2="752.88" y2="310.55" stroke="#000" stroke-width="3.1" stroke-linecap="round"/>
<line x1="761.70" y1="299.35" x2="761.70" y2="316.25" stroke="#000" stroke-width="3.1" stroke-linecap="round"/>
<line x1="770.52" y1="294.55" x2="770.52" y2="307.45" stroke="#000" stroke-width="3.1" stroke-linecap="round"/>
<line x1="779.34" y1="285.25" x2="779.34" y2="298.15" stroke="#000" stroke-width="3.1" stroke-linecap="round"/>
<line x1="788.16" y1="286.35" x2="788.16" y2="301.25" stroke="#000" stroke-width="3.1" stroke-linecap="round"/>
<line x1="796.98" y1="276.05" x2="796.98" y2="292.95" stroke="#000" stroke-width="3.1" stroke-linecap="round"/>
<line x1="805.80" y1="281.25" x2="805.80" y2="302.15" stroke="#000" stroke-width="3.1" stroke-linecap="round"/>
<line x1="814.62" y1="252.65" x2="814.62" y2="283.55" stroke="#000" stroke-width="3.1" stroke-linecap="round"/>
<line x1="823.44" y1="251.05" x2="823.44" y2="282.95" stroke="#000" stroke-width="3.1" stroke-linecap="round"/>
<line x1="832.26" y1="248.55" x2="832.26" y2="281.45" stroke="#000" stroke-width="3.1" stroke-linecap="round"/>
<line x1="841.08" y1="244.45" x2="841.08" y2="281.35" stroke="#000" stroke-width="3.1" stroke-linecap="round"/>
<line x1="849.90" y1="237.75" x2="849.90" y2="277.85" stroke="#000" stroke-width="3.1" stroke-linecap="round"/>
<line x1="858.72" y1="227.05" x2="858.72" y2="267.95" stroke="#000" stroke-width="3.1" stroke-linecap="round"/>
<line x1="867.54" y1="218.85" x2="867.54" y2="263.75" stroke="#000" stroke-width="3.1" stroke-linecap="round"/>
<line x1="876.36" y1="227.25" x2="876.36" y2="282.15" stroke="#000" stroke-width="3.1" stroke-linecap="round"/>
<line x1="885.18" y1="220.85" x2="885.18" y2="263.75" stroke="#000" stroke-width="3.1" stroke-linecap="round"/>
<line x1="894.00" y1="217.85" x2="894.00" y2="266.75" stroke="#000" stroke-width="3.1" stroke-linecap="round"/>
<line x1="902.82" y1="186.25" x2="902.82" y2="224.35" stroke="#000" stroke-width="3.1" stroke-linecap="round"/>
<line x1="911.64" y1="204.85" x2="911.64" y2="253.15" stroke="#000" stroke-width="3.1" stroke-linecap="round"/>
<line x1="920.46" y1="182.15" x2="920.46" y2="234.65" stroke="#000" stroke-width="3.1" stroke-linecap="round"/>
<line x1="929.28" y1="175.95" x2="929.28" y2="228.45" stroke="#000" stroke-width="3.1" stroke-linecap="round"/>
<line x1="938.10" y1="173.95" x2="938.10" y2="211.85" stroke="#000" stroke-width="3.1" stroke-linecap="round"/>
<circle cx="594.12" cy="329.30" r="8.8" fill="#808080" stroke="#000" stroke-width="2.9"/>
<circle cx="602.94" cy="325.10" r="8.8" fill="#808080" stroke="#000" stroke-width="2.9"/>
<circle cx="611.76" cy="330.30" r="8.8" fill="#808080" stroke="#000" stroke-width="2.9"/>
<circle cx="620.58" cy="331.40" r="8.8" fill="#808080" stroke="#000" stroke-width="2.9"/>
<circle cx="629.40" cy="331.40" r="8.8" fill="#808080" stroke="#000" stroke-width="2.9"/>
<circle cx="638.22" cy="329.30" r="8.8" fill="#808080" stroke="#000" stroke-width="2.9"/>
<circle cx="647.04" cy="327.20" r="8.8" fill="#808080" stroke="#000" stroke-width="2.9"/>
<circle cx="655.86" cy="328.20" r="8.8" fill="#808080" stroke="#000" stroke-width="2.9"/>
<circle cx="664.68" cy="317.80" r="8.8" fill="#808080" stroke="#000" stroke-width="2.9"/>
<circle cx="673.50" cy="327.20" r="8.8" fill="#808080" stroke="#000" stroke-width="2.9"/>
<circle cx="682.32" cy="304.20" r="8.8" fill="#808080" stroke="#000" stroke-width="2.9"/>
<circle cx="691.14" cy="313.60" r="8.8" fill="#808080" stroke="#000" stroke-width="2.9"/>
<circle cx="699.96" cy="307.30" r="8.8" fill="#808080" stroke="#000" stroke-width="2.9"/>
<circle cx="708.78" cy="315.70" r="8.8" fill="#808080" stroke="#000" stroke-width="2.9"/>
<circle cx="717.60" cy="305.20" r="8.8" fill="#808080" stroke="#000" stroke-width="2.9"/>
<circle cx="726.42" cy="318.80" r="8.8" fill="#808080" stroke="#000" stroke-width="2.9"/>
<circle cx="735.24" cy="304.20" r="8.8" fill="#808080" stroke="#000" stroke-width="2.9"/>
<circle cx="744.06" cy="304.20" r="8.8" fill="#808080" stroke="#000" stroke-width="2.9"/>
<circle cx="752.88" cy="302.10" r="8.8" fill="#808080" stroke="#000" stroke-width="2.9"/>
<circle cx="761.70" cy="307.80" r="8.8" fill="#808080" stroke="#000" stroke-width="2.9"/>
<circle cx="770.52" cy="301.00" r="8.8" fill="#808080" stroke="#000" stroke-width="2.9"/>
<circle cx="779.34" cy="291.70" r="8.8" fill="#808080" stroke="#000" stroke-width="2.9"/>
<circle cx="788.16" cy="293.80" r="8.8" fill="#808080" stroke="#000" stroke-width="2.9"/>
<circle cx="796.98" cy="284.50" r="8.8" fill="#808080" stroke="#000" stroke-width="2.9"/>
<circle cx="805.80" cy="291.70" r="8.8" fill="#808080" stroke="#000" stroke-width="2.9"/>
<circle cx="814.62" cy="268.10" r="8.8" fill="#808080" stroke="#000" stroke-width="2.9"/>
<circle cx="823.44" cy="267.00" r="8.8" fill="#808080" stroke="#000" stroke-width="2.9"/>
<circle cx="832.26" cy="265.00" r="8.8" fill="#808080" stroke="#000" stroke-width="2.9"/>
<circle cx="841.08" cy="262.90" r="8.8" fill="#808080" stroke="#000" stroke-width="2.9"/>
<circle cx="849.90" cy="257.80" r="8.8" fill="#808080" stroke="#000" stroke-width="2.9"/>
<circle cx="858.72" cy="247.50" r="8.8" fill="#808080" stroke="#000" stroke-width="2.9"/>
<circle cx="867.54" cy="241.30" r="8.8" fill="#808080" stroke="#000" stroke-width="2.9"/>
<circle cx="876.36" cy="254.70" r="8.8" fill="#808080" stroke="#000" stroke-width="2.9"/>
<circle cx="885.18" cy="242.30" r="8.8" fill="#808080" stroke="#000" stroke-width="2.9"/>
<circle cx="894.00" cy="242.30" r="8.8" fill="#808080" stroke="#000" stroke-width="2.9"/>
<circle cx="902.82" cy="205.30" r="8.8" fill="#808080" stroke="#000" stroke-width="2.9"/>
<circle cx="911.64" cy="229.00" r="8.8" fill="#808080" stroke="#000" stroke-width="2.9"/>
<circle cx="920.46" cy="208.40" r="8.8" fill="#808080" stroke="#000" stroke-width="2.9"/>
<circle cx="929.28" cy="202.20" r="8.8" fill="#808080" stroke="#000" stroke-width="2.9"/>
<circle cx="938.10" cy="192.90" r="8.8" fill="#808080" stroke="#000" stroke-width="2.9"/>
<rect x="582.2" y="109.5" width="6.10" height="369.90" fill="#000"/>
<rect x="568.1" y="459.6" width="369.80" height="5.90" fill="#000"/>
<rect x="568.1" y="324.35" width="14.10" height="6.10" fill="#000"/>
<rect x="568.1" y="188.45" width="14.10" height="6.10" fill="#000"/>
<rect x="670.45" y="465.00" width="6.10" height="14.40" fill="#000"/>
<rect x="758.65" y="465.00" width="6.10" height="14.40" fill="#000"/>
<rect x="846.85" y="465.00" width="6.10" height="14.40" fill="#000"/>
<rect x="935.05" y="462.55" width="6.10" height="16.85" fill="#000"/>
<circle cx="593.7" cy="17.6" r="8.9" fill="#0080ff" stroke="#000" stroke-width="2.8"/>
<circle cx="593.7" cy="51.9" r="8.9" fill="#808080" stroke="#000" stroke-width="2.8"/>
<rect x="392.3" y="684.2" width="43.40" height="347.00" fill="#e4e4e4"/>
<rect x="172.20" y="744.6" width="4.6" height="52.40" fill="#000"/>
<polygon points="163.50,796 185.50,796 174.50,815.7" fill="#000"/>
<line x1="96.73" y1="880.87" x2="96.73" y2="904.80" stroke="#0080ff" stroke-width="3.2" stroke-linecap="round"/>
<line x1="105.56" y1="880.87" x2="105.56" y2="904.80" stroke="#0080ff" stroke-width="3.2" stroke-linecap="round"/>
<line x1="114.39" y1="889.01" x2="114.39" y2="904.80" stroke="#0080ff" stroke-width="3.2" stroke-linecap="round"/>
<line x1="123.22" y1="889.01" x2="123.22" y2="904.80" stroke="#0080ff" stroke-width="3.2" stroke-linecap="round"/>
<line x1="132.05" y1="887.65" x2="132.05" y2="903.45" stroke="#0080ff" stroke-width="3.2" stroke-linecap="round"/>
<line x1="140.88" y1="893.08" x2="140.88" y2="908.87" stroke="#0080ff" stroke-width="3.2" stroke-linecap="round"/>
<line x1="149.71" y1="887.65" x2="149.71" y2="903.45" stroke="#0080ff" stroke-width="3.2" stroke-linecap="round"/>
<line x1="158.54" y1="887.65" x2="158.54" y2="903.45" stroke="#0080ff" stroke-width="3.2" stroke-linecap="round"/>
<line x1="167.37" y1="887.65" x2="167.37" y2="903.45" stroke="#0080ff" stroke-width="3.2" stroke-linecap="round"/>
<line x1="176.20" y1="887.65" x2="176.20" y2="903.45" stroke="#0080ff" stroke-width="3.2" stroke-linecap="round"/>
<line x1="185.03" y1="827.76" x2="185.03" y2="851.59" stroke="#0080ff" stroke-width="3.2" stroke-linecap="round"/>
<line x1="193.86" y1="844.20" x2="193.86" y2="857.14" stroke="#0080ff" stroke-width="3.2" stroke-linecap="round"/>
<line x1="202.69" y1="846.62" x2="202.69" y2="859.56" stroke="#0080ff" stroke-width="3.2" stroke-linecap="round"/>
<line x1="211.52" y1="834.42" x2="211.52" y2="857.44" stroke="#0080ff" stroke-width="3.2" stroke-linecap="round"/>
<line x1="220.35" y1="828.67" x2="220.35" y2="853.71" stroke="#0080ff" stroke-width="3.2" stroke-linecap="round"/>
<line x1="229.18" y1="820.80" x2="229.18" y2="845.84" stroke="#0080ff" stroke-width="3.2" stroke-linecap="round"/>
<line x1="238.01" y1="795.08" x2="238.01" y2="838.28" stroke="#0080ff" stroke-width="3.2" stroke-linecap="round"/>
<line x1="246.84" y1="799.42" x2="246.84" y2="832.53" stroke="#0080ff" stroke-width="3.2" stroke-linecap="round"/>
<line x1="255.67" y1="813.84" x2="255.67" y2="844.93" stroke="#0080ff" stroke-width="3.2" stroke-linecap="round"/>
<line x1="264.50" y1="783.59" x2="264.50" y2="827.79" stroke="#0080ff" stroke-width="3.2" stroke-linecap="round"/>
<line x1="273.33" y1="798.82" x2="273.33" y2="829.91" stroke="#0080ff" stroke-width="3.2" stroke-linecap="round"/>
<line x1="282.16" y1="792.16" x2="282.16" y2="833.34" stroke="#0080ff" stroke-width="3.2" stroke-linecap="round"/>
<line x1="290.99" y1="769.57" x2="290.99" y2="824.86" stroke="#0080ff" stroke-width="3.2" stroke-linecap="round"/>
<line x1="299.82" y1="802.55" x2="299.82" y2="835.66" stroke="#0080ff" stroke-width="3.2" stroke-linecap="round"/>
<line x1="308.65" y1="802.04" x2="308.65" y2="831.12" stroke="#0080ff" stroke-width="3.2" stroke-linecap="round"/>
<line x1="317.48" y1="799.62" x2="317.48" y2="842.01" stroke="#0080ff" stroke-width="3.2" stroke-linecap="round"/>
<line x1="326.31" y1="787.02" x2="326.31" y2="819.12" stroke="#0080ff" stroke-width="3.2" stroke-linecap="round"/>
<line x1="335.14" y1="792.97" x2="335.14" y2="820.02" stroke="#0080ff" stroke-width="3.2" stroke-linecap="round"/>
<line x1="343.97" y1="794.08" x2="343.97" y2="817.10" stroke="#0080ff" stroke-width="3.2" stroke-linecap="round"/>
<line x1="352.80" y1="787.52" x2="352.80" y2="813.57" stroke="#0080ff" stroke-width="3.2" stroke-linecap="round"/>
<line x1="361.63" y1="791.45" x2="361.63" y2="816.49" stroke="#0080ff" stroke-width="3.2" stroke-linecap="round"/>
<line x1="370.46" y1="785.00" x2="370.46" y2="816.09" stroke="#0080ff" stroke-width="3.2" stroke-linecap="round"/>
<line x1="379.29" y1="777.13" x2="379.29" y2="817.30" stroke="#0080ff" stroke-width="3.2" stroke-linecap="round"/>
<line x1="388.12" y1="777.74" x2="388.12" y2="804.79" stroke="#0080ff" stroke-width="3.2" stroke-linecap="round"/>
<line x1="396.95" y1="785.50" x2="396.95" y2="820.63" stroke="#0080ff" stroke-width="3.2" stroke-linecap="round"/>
<line x1="405.78" y1="792.56" x2="405.78" y2="813.57" stroke="#0080ff" stroke-width="3.2" stroke-linecap="round"/>
<line x1="414.61" y1="787.72" x2="414.61" y2="809.94" stroke="#0080ff" stroke-width="3.2" stroke-linecap="round"/>
<line x1="423.44" y1="772.19" x2="423.44" y2="805.30" stroke="#0080ff" stroke-width="3.2" stroke-linecap="round"/>
<line x1="432.27" y1="778.44" x2="432.27" y2="807.52" stroke="#0080ff" stroke-width="3.2" stroke-linecap="round"/>
<line x1="441.10" y1="781.77" x2="441.10" y2="810.85" stroke="#0080ff" stroke-width="3.2" stroke-linecap="round"/>
<circle cx="96.73" cy="892.84" r="8.8" fill="#0080ff" stroke="#000" stroke-width="2.9"/>
<circle cx="105.56" cy="892.84" r="8.8" fill="#0080ff" stroke="#000" stroke-width="2.9"/>
<circle cx="114.39" cy="896.91" r="8.8" fill="#0080ff" stroke="#000" stroke-width="2.9"/>
<circle cx="123.22" cy="896.91" r="8.8" fill="#0080ff" stroke="#000" stroke-width="2.9"/>
<circle cx="132.05" cy="895.55" r="8.8" fill="#0080ff" stroke="#000" stroke-width="2.9"/>
<circle cx="140.88" cy="900.98" r="8.8" fill="#0080ff" stroke="#000" stroke-width="2.9"/>
<circle cx="149.71" cy="895.55" r="8.8" fill="#0080ff" stroke="#000" stroke-width="2.9"/>
<circle cx="158.54" cy="895.55" r="8.8" fill="#0080ff" stroke="#000" stroke-width="2.9"/>
<circle cx="167.37" cy="895.55" r="8.8" fill="#0080ff" stroke="#000" stroke-width="2.9"/>
<circle cx="176.20" cy="895.55" r="8.8" fill="#0080ff" stroke="#000" stroke-width="2.9"/>
<circle cx="185.03" cy="839.68" r="8.8" fill="#0080ff" stroke="#000" stroke-width="2.9"/>
<circle cx="193.86" cy="850.67" r="8.8" fill="#0080ff" stroke="#000" stroke-width="2.9"/>
<circle cx="202.69" cy="853.09" r="8.8" fill="#0080ff" stroke="#000" stroke-width="2.9"/>
<circle cx="211.52" cy="845.93" r="8.8" fill="#0080ff" stroke="#000" stroke-width="2.9"/>
<circle cx="220.35" cy="841.19" r="8.8" fill="#0080ff" stroke="#000" stroke-width="2.9"/>
<circle cx="229.18" cy="833.32" r="8.8" fill="#0080ff" stroke="#000" stroke-width="2.9"/>
<circle cx="238.01" cy="816.68" r="8.8" fill="#0080ff" stroke="#000" stroke-width="2.9"/>
<circle cx="246.84" cy="815.98" r="8.8" fill="#0080ff" stroke="#000" stroke-width="2.9"/>
<circle cx="255.67" cy="829.39" r="8.8" fill="#0080ff" stroke="#000" stroke-width="2.9"/>
<circle cx="264.50" cy="805.69" r="8.8" fill="#0080ff" stroke="#000" stroke-width="2.9"/>
<circle cx="273.33" cy="814.36" r="8.8" fill="#0080ff" stroke="#000" stroke-width="2.9"/>
<circle cx="282.16" cy="812.75" r="8.8" fill="#0080ff" stroke="#000" stroke-width="2.9"/>
<circle cx="290.99" cy="797.22" r="8.8" fill="#0080ff" stroke="#000" stroke-width="2.9"/>
<circle cx="299.82" cy="819.10" r="8.8" fill="#0080ff" stroke="#000" stroke-width="2.9"/>
<circle cx="308.65" cy="816.58" r="8.8" fill="#0080ff" stroke="#000" stroke-width="2.9"/>
<circle cx="317.48" cy="820.82" r="8.8" fill="#0080ff" stroke="#000" stroke-width="2.9"/>
<circle cx="326.31" cy="803.07" r="8.8" fill="#0080ff" stroke="#000" stroke-width="2.9"/>
<circle cx="335.14" cy="806.50" r="8.8" fill="#0080ff" stroke="#000" stroke-width="2.9"/>
<circle cx="343.97" cy="805.59" r="8.8" fill="#0080ff" stroke="#000" stroke-width="2.9"/>
<circle cx="352.80" cy="800.54" r="8.8" fill="#0080ff" stroke="#000" stroke-width="2.9"/>
<circle cx="361.63" cy="803.97" r="8.8" fill="#0080ff" stroke="#000" stroke-width="2.9"/>
<circle cx="370.46" cy="800.54" r="8.8" fill="#0080ff" stroke="#000" stroke-width="2.9"/>
<circle cx="379.29" cy="797.22" r="8.8" fill="#0080ff" stroke="#000" stroke-width="2.9"/>
<circle cx="388.12" cy="791.27" r="8.8" fill="#0080ff" stroke="#000" stroke-width="2.9"/>
<circle cx="405.78" cy="803.07" r="8.8" fill="#0080ff" stroke="#000" stroke-width="2.9"/>
<circle cx="396.95" cy="803.07" r="8.8" fill="#0080ff" stroke="#000" stroke-width="2.9"/>
<circle cx="414.61" cy="798.83" r="8.8" fill="#0080ff" stroke="#000" stroke-width="2.9"/>
<circle cx="423.44" cy="788.74" r="8.8" fill="#0080ff" stroke="#000" stroke-width="2.9"/>
<circle cx="432.27" cy="792.98" r="8.8" fill="#0080ff" stroke="#000" stroke-width="2.9"/>
<circle cx="441.10" cy="796.31" r="8.8" fill="#0080ff" stroke="#000" stroke-width="2.9"/>
<line x1="96.73" y1="894.45" x2="96.73" y2="901.35" stroke="#000" stroke-width="3.1" stroke-linecap="round"/>
<line x1="105.56" y1="897.95" x2="105.56" y2="904.85" stroke="#000" stroke-width="3.1" stroke-linecap="round"/>
<line x1="114.39" y1="897.35" x2="114.39" y2="904.25" stroke="#000" stroke-width="3.1" stroke-linecap="round"/>
<line x1="123.22" y1="891.05" x2="123.22" y2="897.95" stroke="#000" stroke-width="3.1" stroke-linecap="round"/>
<line x1="132.05" y1="887.05" x2="132.05" y2="893.95" stroke="#000" stroke-width="3.1" stroke-linecap="round"/>
<line x1="140.88" y1="887.05" x2="140.88" y2="893.95" stroke="#000" stroke-width="3.1" stroke-linecap="round"/>
<line x1="149.71" y1="892.15" x2="149.71" y2="899.05" stroke="#000" stroke-width="3.1" stroke-linecap="round"/>
<line x1="158.54" y1="883.55" x2="158.54" y2="890.45" stroke="#000" stroke-width="3.1" stroke-linecap="round"/>
<line x1="167.37" y1="894.45" x2="167.37" y2="901.35" stroke="#000" stroke-width="3.1" stroke-linecap="round"/>
<line x1="176.20" y1="891.65" x2="176.20" y2="898.55" stroke="#000" stroke-width="3.1" stroke-linecap="round"/>
<line x1="185.03" y1="855.85" x2="185.03" y2="864.75" stroke="#000" stroke-width="3.1" stroke-linecap="round"/>
<line x1="193.86" y1="865.05" x2="193.86" y2="873.95" stroke="#000" stroke-width="3.1" stroke-linecap="round"/>
<line x1="202.69" y1="875.95" x2="202.69" y2="884.85" stroke="#000" stroke-width="3.1" stroke-linecap="round"/>
<line x1="211.52" y1="879.95" x2="211.52" y2="890.85" stroke="#000" stroke-width="3.1" stroke-linecap="round"/>
<line x1="220.35" y1="878.15" x2="220.35" y2="891.05" stroke="#000" stroke-width="3.1" stroke-linecap="round"/>
<line x1="229.18" y1="865.25" x2="229.18" y2="887.15" stroke="#000" stroke-width="3.1" stroke-linecap="round"/>
<line x1="238.01" y1="871.15" x2="238.01" y2="888.05" stroke="#000" stroke-width="3.1" stroke-linecap="round"/>
<line x1="246.84" y1="881.15" x2="246.84" y2="898.05" stroke="#000" stroke-width="3.1" stroke-linecap="round"/>
<line x1="255.67" y1="874.25" x2="255.67" y2="893.15" stroke="#000" stroke-width="3.1" stroke-linecap="round"/>
<line x1="264.50" y1="870.75" x2="264.50" y2="891.65" stroke="#000" stroke-width="3.1" stroke-linecap="round"/>
<line x1="273.33" y1="870.75" x2="273.33" y2="891.65" stroke="#000" stroke-width="3.1" stroke-linecap="round"/>
<line x1="282.16" y1="870.75" x2="282.16" y2="891.65" stroke="#000" stroke-width="3.1" stroke-linecap="round"/>
<line x1="290.99" y1="866.95" x2="290.99" y2="893.85" stroke="#000" stroke-width="3.1" stroke-linecap="round"/>
<line x1="299.82" y1="881.15" x2="299.82" y2="901.45" stroke="#000" stroke-width="3.1" stroke-linecap="round"/>
<line x1="308.65" y1="868.05" x2="308.65" y2="894.95" stroke="#000" stroke-width="3.1" stroke-linecap="round"/>
<line x1="317.48" y1="866.25" x2="317.48" y2="891.15" stroke="#000" stroke-width="3.1" stroke-linecap="round"/>
<line x1="326.31" y1="882.55" x2="326.31" y2="903.45" stroke="#000" stroke-width="3.1" stroke-linecap="round"/>
<line x1="335.14" y1="879.95" x2="335.14" y2="900.85" stroke="#000" stroke-width="3.1" stroke-linecap="round"/>
<line x1="343.97" y1="869.15" x2="343.97" y2="890.05" stroke="#000" stroke-width="3.1" stroke-linecap="round"/>
<line x1="352.80" y1="872.45" x2="352.80" y2="893.35" stroke="#000" stroke-width="3.1" stroke-linecap="round"/>
<line x1="361.63" y1="877.35" x2="361.63" y2="900.25" stroke="#000" stroke-width="3.1" stroke-linecap="round"/>
<line x1="370.46" y1="876.35" x2="370.46" y2="901.25" stroke="#000" stroke-width="3.1" stroke-linecap="round"/>
<line x1="379.29" y1="873.65" x2="379.29" y2="900.55" stroke="#000" stroke-width="3.1" stroke-linecap="round"/>
<line x1="388.12" y1="876.85" x2="388.12" y2="905.75" stroke="#000" stroke-width="3.1" stroke-linecap="round"/>
<line x1="396.95" y1="878.35" x2="396.95" y2="909.25" stroke="#000" stroke-width="3.1" stroke-linecap="round"/>
<line x1="405.78" y1="879.85" x2="405.78" y2="912.75" stroke="#000" stroke-width="3.1" stroke-linecap="round"/>
<line x1="414.61" y1="881.35" x2="414.61" y2="916.25" stroke="#000" stroke-width="3.1" stroke-linecap="round"/>
<line x1="423.44" y1="872.45" x2="423.44" y2="903.35" stroke="#000" stroke-width="3.1" stroke-linecap="round"/>
<line x1="432.27" y1="879.85" x2="432.27" y2="912.75" stroke="#000" stroke-width="3.1" stroke-linecap="round"/>
<line x1="441.10" y1="872.75" x2="441.10" y2="914.85" stroke="#000" stroke-width="3.1" stroke-linecap="round"/>
<circle cx="96.73" cy="897.90" r="8.8" fill="#808080" stroke="#000" stroke-width="2.9"/>
<circle cx="105.56" cy="901.40" r="8.8" fill="#808080" stroke="#000" stroke-width="2.9"/>
<circle cx="114.39" cy="900.80" r="8.8" fill="#808080" stroke="#000" stroke-width="2.9"/>
<circle cx="123.22" cy="894.50" r="8.8" fill="#808080" stroke="#000" stroke-width="2.9"/>
<circle cx="132.05" cy="890.50" r="8.8" fill="#808080" stroke="#000" stroke-width="2.9"/>
<circle cx="140.88" cy="890.50" r="8.8" fill="#808080" stroke="#000" stroke-width="2.9"/>
<circle cx="149.71" cy="895.60" r="8.8" fill="#808080" stroke="#000" stroke-width="2.9"/>
<circle cx="158.54" cy="887.00" r="8.8" fill="#808080" stroke="#000" stroke-width="2.9"/>
<circle cx="167.37" cy="897.90" r="8.8" fill="#808080" stroke="#000" stroke-width="2.9"/>
<circle cx="176.20" cy="895.10" r="8.8" fill="#808080" stroke="#000" stroke-width="2.9"/>
<circle cx="185.03" cy="860.30" r="8.8" fill="#808080" stroke="#000" stroke-width="2.9"/>
<circle cx="193.86" cy="869.50" r="8.8" fill="#808080" stroke="#000" stroke-width="2.9"/>
<circle cx="202.69" cy="880.40" r="8.8" fill="#808080" stroke="#000" stroke-width="2.9"/>
<circle cx="211.52" cy="885.40" r="8.8" fill="#808080" stroke="#000" stroke-width="2.9"/>
<circle cx="220.35" cy="884.60" r="8.8" fill="#808080" stroke="#000" stroke-width="2.9"/>
<circle cx="229.18" cy="876.20" r="8.8" fill="#808080" stroke="#000" stroke-width="2.9"/>
<circle cx="238.01" cy="879.60" r="8.8" fill="#808080" stroke="#000" stroke-width="2.9"/>
<circle cx="246.84" cy="889.60" r="8.8" fill="#808080" stroke="#000" stroke-width="2.9"/>
<circle cx="255.67" cy="883.70" r="8.8" fill="#808080" stroke="#000" stroke-width="2.9"/>
<circle cx="264.50" cy="881.20" r="8.8" fill="#808080" stroke="#000" stroke-width="2.9"/>
<circle cx="273.33" cy="881.20" r="8.8" fill="#808080" stroke="#000" stroke-width="2.9"/>
<circle cx="282.16" cy="881.20" r="8.8" fill="#808080" stroke="#000" stroke-width="2.9"/>
<circle cx="290.99" cy="880.40" r="8.8" fill="#808080" stroke="#000" stroke-width="2.9"/>
<circle cx="299.82" cy="891.30" r="8.8" fill="#808080" stroke="#000" stroke-width="2.9"/>
<circle cx="308.65" cy="881.50" r="8.8" fill="#808080" stroke="#000" stroke-width="2.9"/>
<circle cx="317.48" cy="878.70" r="8.8" fill="#808080" stroke="#000" stroke-width="2.9"/>
<circle cx="326.31" cy="893.00" r="8.8" fill="#808080" stroke="#000" stroke-width="2.9"/>
<circle cx="335.14" cy="890.40" r="8.8" fill="#808080" stroke="#000" stroke-width="2.9"/>
<circle cx="343.97" cy="879.60" r="8.8" fill="#808080" stroke="#000" stroke-width="2.9"/>
<circle cx="352.80" cy="882.90" r="8.8" fill="#808080" stroke="#000" stroke-width="2.9"/>
<circle cx="361.63" cy="888.80" r="8.8" fill="#808080" stroke="#000" stroke-width="2.9"/>
<circle cx="370.46" cy="888.80" r="8.8" fill="#808080" stroke="#000" stroke-width="2.9"/>
<circle cx="379.29" cy="887.10" r="8.8" fill="#808080" stroke="#000" stroke-width="2.9"/>
<circle cx="388.12" cy="891.30" r="8.8" fill="#808080" stroke="#000" stroke-width="2.9"/>
<circle cx="396.95" cy="893.80" r="8.8" fill="#808080" stroke="#000" stroke-width="2.9"/>
<circle cx="405.78" cy="896.30" r="8.8" fill="#808080" stroke="#000" stroke-width="2.9"/>
<circle cx="414.61" cy="898.80" r="8.8" fill="#808080" stroke="#000" stroke-width="2.9"/>
<circle cx="423.44" cy="887.90" r="8.8" fill="#808080" stroke="#000" stroke-width="2.9"/>
<circle cx="432.27" cy="896.30" r="8.8" fill="#808080" stroke="#000" stroke-width="2.9"/>
<circle cx="441.10" cy="893.80" r="8.8" fill="#808080" stroke="#000" stroke-width="2.9"/>
<rect x="84.8" y="678.3" width="6.20" height="369.40" fill="#000"/>
<rect x="70.9" y="1028.1" width="369.70" height="6.20" fill="#000"/>
<rect x="70.9" y="892.20" width="13.90" height="6.20" fill="#000"/>
<rect x="70.9" y="756.80" width="13.90" height="6.20" fill="#000"/>
<rect x="173.10" y="1033.80" width="6.20" height="13.90" fill="#000"/>
<rect x="261.40" y="1033.80" width="6.20" height="13.90" fill="#000"/>
<rect x="349.70" y="1033.80" width="6.20" height="13.90" fill="#000"/>
<rect x="438.00" y="1031.20" width="6.20" height="16.50" fill="#000"/>
<circle cx="96.3" cy="586.8" r="8.9" fill="#0080ff" stroke="#000" stroke-width="2.8"/>
<circle cx="96.3" cy="620.9" r="8.9" fill="#808080" stroke="#000" stroke-width="2.8"/>
<line x1="619.5" y1="858.2" x2="619.5" y2="880.3" stroke="#000" stroke-width="3"/>
<line x1="619.5" y1="923.1" x2="619.5" y2="929.2" stroke="#000" stroke-width="3"/>
<line x1="607.8" y1="858.2" x2="631.2" y2="858.2" stroke="#000" stroke-width="3"/>
<line x1="607.8" y1="929.2" x2="631.2" y2="929.2" stroke="#000" stroke-width="3"/>
<rect x="596.10" y="880.3" width="46.8" height="42.80" fill="#ffffff" stroke="#000" stroke-width="3.1"/>
<line x1="596.10" y1="896.8" x2="642.90" y2="896.8" stroke="#000" stroke-width="3"/>
<line x1="615.10" y1="897.8" x2="623.90" y2="897.8" stroke="#000" stroke-width="3.4"/>
<line x1="619.5" y1="893.40" x2="619.5" y2="902.20" stroke="#000" stroke-width="3.4"/>
<line x1="689.8" y1="734.6" x2="689.8" y2="769.5" stroke="#000" stroke-width="3"/>
<line x1="689.8" y1="833.8" x2="689.8" y2="839.7" stroke="#000" stroke-width="3"/>
<line x1="678.0999999999999" y1="734.6" x2="701.5" y2="734.6" stroke="#000" stroke-width="3"/>
<line x1="678.0999999999999" y1="839.7" x2="701.5" y2="839.7" stroke="#000" stroke-width="3"/>
<rect x="666.40" y="769.5" width="46.8" height="64.30" fill="#0080ff" stroke="#000" stroke-width="3.1"/>
<line x1="666.40" y1="797.4" x2="713.20" y2="797.4" stroke="#000" stroke-width="3"/>
<line x1="685.40" y1="796.8" x2="694.20" y2="796.8" stroke="#000" stroke-width="3.4"/>
<line x1="689.8" y1="792.40" x2="689.8" y2="801.20" stroke="#000" stroke-width="3.4"/>
<line x1="759.9" y1="853.5" x2="759.9" y2="892.3" stroke="#000" stroke-width="3"/>
<line x1="759.9" y1="928.0" x2="759.9" y2="934.1" stroke="#000" stroke-width="3"/>
<line x1="748.1999999999999" y1="853.5" x2="771.6" y2="853.5" stroke="#000" stroke-width="3"/>
<line x1="748.1999999999999" y1="934.1" x2="771.6" y2="934.1" stroke="#000" stroke-width="3"/>
<rect x="736.50" y="892.3" width="46.8" height="35.70" fill="#808080" stroke="#000" stroke-width="3.1"/>
<line x1="736.50" y1="910.5" x2="783.30" y2="910.5" stroke="#000" stroke-width="3"/>
<line x1="755.50" y1="906.3" x2="764.30" y2="906.3" stroke="#000" stroke-width="3.4"/>
<line x1="759.9" y1="901.90" x2="759.9" y2="910.70" stroke="#000" stroke-width="3.4"/>
<line x1="830.0" y1="687.5" x2="830.0" y2="732.8" stroke="#000" stroke-width="3"/>
<line x1="830.0" y1="833.0" x2="830.0" y2="849.2" stroke="#000" stroke-width="3"/>
<line x1="818.3" y1="687.5" x2="841.7" y2="687.5" stroke="#000" stroke-width="3"/>
<line x1="818.3" y1="849.2" x2="841.7" y2="849.2" stroke="#000" stroke-width="3"/>
<rect x="806.60" y="732.8" width="46.8" height="100.20" fill="#808080" stroke="#000" stroke-width="3.1"/>
<line x1="806.60" y1="775.7" x2="853.40" y2="775.7" stroke="#000" stroke-width="3"/>
<line x1="825.60" y1="777.0" x2="834.40" y2="777.0" stroke="#000" stroke-width="3.4"/>
<line x1="830.0" y1="772.60" x2="830.0" y2="781.40" stroke="#000" stroke-width="3.4"/>
<line x1="900.1" y1="822.3" x2="900.1" y2="860.9" stroke="#000" stroke-width="3"/>
<line x1="900.1" y1="944.0" x2="900.1" y2="947.5" stroke="#000" stroke-width="3"/>
<line x1="888.4" y1="822.3" x2="911.8000000000001" y2="822.3" stroke="#000" stroke-width="3"/>
<line x1="888.4" y1="947.5" x2="911.8000000000001" y2="947.5" stroke="#000" stroke-width="3"/>
<rect x="876.70" y="860.9" width="46.8" height="83.10" fill="#808080" stroke="#000" stroke-width="3.1"/>
<line x1="876.70" y1="894.3" x2="923.50" y2="894.3" stroke="#000" stroke-width="3"/>
<line x1="895.70" y1="895.1" x2="904.50" y2="895.1" stroke="#000" stroke-width="3.4"/>
<line x1="900.1" y1="890.70" x2="900.1" y2="899.50" stroke="#000" stroke-width="3.4"/>
<rect x="619.4" y="723.3" width="70.30" height="4" fill="#000"/>
<rect x="689.6" y="703.5" width="70.20" height="4" fill="#000"/>
<rect x="689.6" y="677.7" width="210.40" height="4" fill="#000"/>
<rect x="582" y="679.2" width="5.8" height="354.8" fill="#000"/>
<rect x="567.6" y="1028.1" width="368.7" height="5.8" fill="#000"/>
<rect x="567.6" y="757.60" width="14.4" height="5.8" fill="#000"/>
<rect x="567.6" y="892.90" width="14.4" height="5.8" fill="#000"/>
<rect x="616.50" y="1033.5" width="6" height="14.2" fill="#000"/>
<rect x="686.80" y="1033.5" width="6" height="14.2" fill="#000"/>
<rect x="757.10" y="1033.5" width="6" height="14.2" fill="#000"/>
<rect x="827.40" y="1033.5" width="6" height="14.2" fill="#000"/>
<rect x="897.70" y="1033.5" width="6" height="14.2" fill="#000"/>
<rect x="584.85" y="576.85" width="22.00" height="21.70" fill="#ffffff" stroke="#000" stroke-width="2.9"/>
<rect x="584.85" y="610.25" width="22.00" height="21.70" fill="#0080ff" stroke="#000" stroke-width="2.9"/>
<rect x="584.85" y="644.25" width="22.00" height="21.70" fill="#808080" stroke="#000" stroke-width="2.9"/>
<text transform="translate(12.75,33.25) scale(0.3515,0.3544)" font-size="100" font-weight="bold" fill="#222">A</text>
<text transform="translate(117.87,29.93) scale(0.2777,0.3677)" font-size="100" fill="#000">stress</text>
<text transform="translate(117.87,64.85) scale(0.2757,0.3500)" font-size="100" fill="#000">stress+AP5</text>
<text transform="translate(48.13,202.60) scale(0.3130,0.3586)" font-size="100" fill="#000">2</text>
<text transform="translate(49.91,337.00) scale(0.2116,0.3594)" font-size="100" fill="#000">1</text>
<text transform="translate(48.74,470.84) scale(0.2896,0.3606)" font-size="100" fill="#000">0</text>
<text transform="translate(79.30,516.35) scale(0.3000,0.3479)" font-size="100" fill="#000">0</text>
<text transform="translate(160.69,516.46) scale(0.2758,0.3437)" font-size="100" fill="#000">10</text>
<text transform="translate(248.07,516.46) scale(0.2863,0.3437)" font-size="100" fill="#000">20</text>
<text transform="translate(335.86,516.46) scale(0.2854,0.3437)" font-size="100" fill="#000">30</text>
<text transform="translate(423.13,516.46) scale(0.2838,0.3437)" font-size="100" fill="#000">40</text>
<text transform="translate(191.33,543.66) scale(0.2727,0.3351)" font-size="100" font-weight="bold" fill="#000">time (min)</text>
<text transform="translate(32.95,440.59) rotate(-90) scale(0.2693,0.3404)" font-size="100" font-weight="bold" fill="#000">EPSP amplitude  (norm)</text>
<text transform="translate(109.46,218.69) scale(0.2398,0.3099)" font-size="100" font-style="italic" fill="#4d4d4d">40 Hz</text>
<text transform="translate(426.75,456.13) rotate(-90) scale(0.3356,0.3547)" font-size="100" font-style="italic" fill="#4d4d4d">post</text>
<text transform="translate(507.66,32.90) scale(0.3344,0.3449)" font-size="100" font-weight="bold" fill="#222">B</text>
<text transform="translate(619.57,29.94) scale(0.2765,0.3615)" font-size="100" fill="#000">stress</text>
<text transform="translate(618.97,62.55) scale(0.2751,0.3479)" font-size="100" fill="#000">stress+SCH23390</text>
<text transform="translate(546.35,201.00) scale(0.3109,0.3543)" font-size="100" fill="#000">2</text>
<text transform="translate(548.04,334.90) scale(0.1953,0.3551)" font-size="100" fill="#000">1</text>
<text transform="translate(546.86,470.65) scale(0.2854,0.3535)" font-size="100" fill="#000">0</text>
<text transform="translate(576.42,516.56) scale(0.2958,0.3437)" font-size="100" fill="#000">0</text>
<text transform="translate(657.74,516.56) scale(0.2828,0.3437)" font-size="100" fill="#000">10</text>
<text transform="translate(744.62,516.56) scale(0.2951,0.3437)" font-size="100" fill="#000">20</text>
<text transform="translate(832.97,516.56) scale(0.2825,0.3437)" font-size="100" fill="#000">30</text>
<text transform="translate(921.66,516.56) scale(0.2705,0.3437)" font-size="100" fill="#000">40</text>
<text transform="translate(688.42,543.50) scale(0.2756,0.3287)" font-size="100" font-weight="bold" fill="#000">time (min)</text>
<text transform="translate(531.75,441.69) rotate(-90) scale(0.2706,0.3404)" font-size="100" font-weight="bold" fill="#000">EPSP amplitude (norm)</text>
<text transform="translate(606.97,218.21) scale(0.2340,0.2944)" font-size="100" font-style="italic" fill="#4d4d4d">40 Hz</text>
<text transform="translate(924.33,456.14) rotate(-90) scale(0.3320,0.3558)" font-size="100" font-style="italic" fill="#4d4d4d">post</text>
<text transform="translate(5.70,600.66) scale(0.3246,0.3380)" font-size="100" font-weight="bold" fill="#222">C</text>
<text transform="translate(117.67,599.03) scale(0.2777,0.3677)" font-size="100" fill="#000">stress</text>
<text transform="translate(118.08,633.14) scale(0.2744,0.3362)" font-size="100" fill="#000">stress+propranolol</text>
<text transform="translate(48.37,768.00) scale(0.3065,0.3543)" font-size="100" fill="#000">2</text>
<text transform="translate(50.11,903.30) scale(0.2116,0.3594)" font-size="100" fill="#000">1</text>
<text transform="translate(49.25,1039.45) scale(0.2875,0.3535)" font-size="100" fill="#000">0</text>
<text transform="translate(78.92,1083.95) scale(0.2958,0.3479)" font-size="100" fill="#000">0</text>
<text transform="translate(159.91,1083.95) scale(0.2737,0.3479)" font-size="100" fill="#000">10</text>
<text transform="translate(245.82,1083.95) scale(0.2961,0.3479)" font-size="100" fill="#000">20</text>
<text transform="translate(334.37,1083.95) scale(0.2825,0.3479)" font-size="100" fill="#000">30</text>
<text transform="translate(421.34,1083.95) scale(0.2800,0.3479)" font-size="100" fill="#000">40</text>
<text transform="translate(189.22,1113.06) scale(0.2752,0.3351)" font-size="100" font-weight="bold" fill="#000">time (min)</text>
<text transform="translate(33.95,1008.31) rotate(-90) scale(0.2733,0.3404)" font-size="100" font-weight="bold" fill="#000">EPSP amplitude (norm)</text>
<text transform="translate(107.56,786.99) scale(0.2394,0.3141)" font-size="100" font-style="italic" fill="#4d4d4d">40 Hz</text>
<text transform="translate(426.55,1023.24) rotate(-90) scale(0.3299,0.3070)" font-size="100" font-style="italic" fill="#4d4d4d">post</text>
<text transform="translate(505.69,598.50) scale(0.3295,0.3319)" font-size="100" font-weight="bold" fill="#222">D</text>
<text transform="translate(619.59,599.47) scale(0.2766,0.3257)" font-size="100" fill="#000">control</text>
<text transform="translate(619.87,631.63) scale(0.2765,0.3662)" font-size="100" fill="#000">stress</text>
<text transform="translate(619.87,665.55) scale(0.2760,0.3117)" font-size="100" fill="#000">stress+drug</text>
<text transform="translate(545.43,769.50) scale(0.3130,0.3514)" font-size="100" fill="#000">2</text>
<text transform="translate(548.27,904.70) scale(0.1907,0.3594)" font-size="100" fill="#000">1</text>
<text transform="translate(546.82,1038.96) scale(0.2708,0.3423)" font-size="100" fill="#000">0</text>
<text transform="translate(530.85,1008.41) rotate(-90) scale(0.2734,0.3404)" font-size="100" font-weight="bold" fill="#000">EPSP amplitude (norm)</text>
<text transform="translate(635.70,731.90) scale(0.3241,0.3000)" font-size="100" font-weight="bold" fill="#000">***</text>
<text transform="translate(706.00,712.33) scale(0.3250,0.2946)" font-size="100" font-weight="bold" fill="#000">***</text>
<text transform="translate(776.20,685.74) scale(0.3207,0.2919)" font-size="100" font-weight="bold" fill="#000">***</text>
<text transform="translate(762.70,1075.35) rotate(-45) scale(0.2854,0.3480) translate(-185.00,0)" font-size="100" fill="#000">AP5</text>
<text transform="translate(832.85,1073.40) rotate(-45) scale(0.2769,0.3377) translate(-485.00,0)" font-size="100" fill="#000">SCH23390</text>
<text transform="translate(900.00,1075.90) rotate(-45) scale(0.2734,0.3334) translate(-494.00,0)" font-size="100" fill="#000">propranolol</text>
</svg>
</body></html>
